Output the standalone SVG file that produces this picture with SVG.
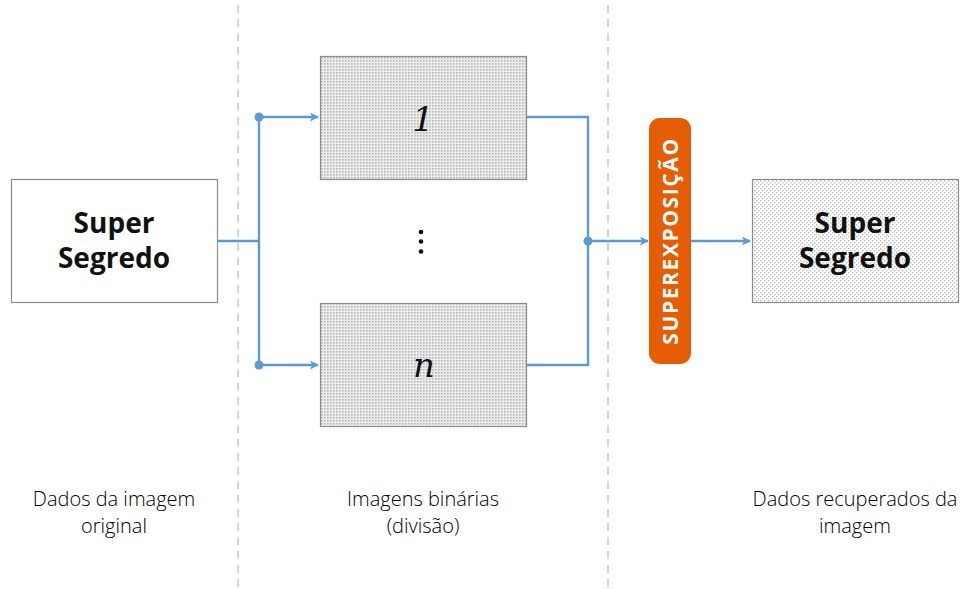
<svg xmlns="http://www.w3.org/2000/svg" width="960" height="589" viewBox="0 0 960 589">
  <defs>
    <!-- dense halftone used for the share images -->
    <pattern id="dense" width="3" height="3" patternUnits="userSpaceOnUse">
      <rect width="3" height="3" fill="#ededed"/>
      <rect x="0" y="0" width="1.6" height="1.6" fill="#b4b4b4"/>
    </pattern>
    <!-- lighter checker dots for the recovered image -->
    <pattern id="sparse" width="4" height="4" patternUnits="userSpaceOnUse">
      <rect width="4" height="4" fill="#ffffff"/>
      <rect x="0" y="0" width="1.4" height="1.4" fill="#bdbdbd"/>
      <rect x="2" y="2" width="1.4" height="1.4" fill="#bdbdbd"/>
    </pattern>
    <marker id="arrow" viewBox="0 0 10 10" refX="9" refY="5" markerWidth="9" markerHeight="9" markerUnits="userSpaceOnUse" orient="auto">
      <path d="M0,0 L10,5 L0,10 L2.5,5 Z" fill="#5b9bd5"/>
    </marker>
  </defs>
  <style>
    .box { stroke: #8c8c8c; stroke-width: 1.2; }
    .title { font-family: "Open Sans", "Noto Sans", sans-serif; font-weight: 700; font-size: 28px; fill: #111; text-anchor: middle; }
    .caption { font-family: "Open Sans", "Noto Sans", sans-serif; font-weight: 300; font-size: 20px; fill: #000; text-anchor: middle; }
    .idx { font-family: "DejaVu Serif", "Liberation Serif", serif; font-style: italic; font-size: 34px; fill: #111; text-anchor: middle; }
    .wire { fill: none; stroke: #5b9bd5; stroke-width: 2.4; }
    .sep { stroke: #c8c8c8; stroke-width: 1.5; stroke-dasharray: 8 6; }
    .joint { fill: #5b9bd5; }
  </style>

  <rect width="960" height="589" fill="#ffffff"/>

  <!-- column separators -->
  <g id="separators">
    <line class="sep" x1="238" y1="5" x2="238" y2="589"/>
    <line class="sep" x1="608" y1="5" x2="608" y2="589"/>
  </g>

  <!-- connectors -->
  <g id="connectors">
    <path class="wire" d="M217,241 H259"/>
    <path class="wire" d="M259,117 V365"/>
    <path class="wire" d="M259,117 H318" marker-end="url(#arrow)"/>
    <path class="wire" d="M259,365 H318" marker-end="url(#arrow)"/>
    <path class="wire" d="M526,117 H588 V365 H526"/>
    <path class="wire" d="M588,241 H648" marker-end="url(#arrow)"/>
    <path class="wire" d="M691,241 H750" marker-end="url(#arrow)"/>
    <circle class="joint" cx="259" cy="117" r="4.5"/>
    <circle class="joint" cx="259" cy="365" r="4.5"/>
    <circle class="joint" cx="588" cy="241" r="4.5"/>
  </g>

  <!-- original image -->
  <g id="original">
    <rect class="box" x="11.5" y="179.5" width="206" height="123" fill="#ffffff"/>
    <text class="title" x="114" y="233">Super</text>
    <text class="title" x="114" y="268">Segredo</text>
  </g>

  <!-- binary share 1 -->
  <g id="share-1">
    <rect class="box" x="320.5" y="56.5" width="206" height="123" fill="url(#dense)"/>
    <text class="idx" x="423" y="131">1</text>
  </g>

  <!-- ellipsis between shares -->
  <g id="ellipsis">
    <circle cx="421" cy="232" r="2.3" fill="#111"/>
    <circle cx="421" cy="241.5" r="2.3" fill="#111"/>
    <circle cx="421" cy="251.5" r="2.3" fill="#111"/>
  </g>

  <!-- binary share n -->
  <g id="share-n">
    <rect class="box" x="320.5" y="303.5" width="206" height="123" fill="url(#dense)"/>
    <text class="idx" x="424" y="377">n</text>
  </g>

  <!-- overlay step -->
  <g id="overlay">
    <rect x="649" y="118" width="42" height="246" rx="11" fill="#e65c00"/>
    <text x="670" y="241" transform="rotate(-90 670 241)" dy="7.5" font-family="'Open Sans', 'Noto Sans', sans-serif" font-weight="700" font-size="21" fill="#ffffff" text-anchor="middle" letter-spacing="1.6">SUPEREXPOSIÇÃO</text>
  </g>

  <!-- recovered image -->
  <g id="recovered">
    <rect class="box" x="752.5" y="179.5" width="206" height="123" fill="url(#sparse)"/>
    <text class="title" x="855" y="233">Super</text>
    <text class="title" x="855" y="268">Segredo</text>
  </g>

  <!-- column captions -->
  <g id="captions">
    <text class="caption" x="114" y="506">Dados da imagem</text>
    <text class="caption" x="114" y="533">original</text>
    <text class="caption" x="423" y="506">Imagens binárias</text>
    <text class="caption" x="423" y="533">(divisão)</text>
    <text class="caption" x="855" y="506">Dados recuperados da</text>
    <text class="caption" x="855" y="533">imagem</text>
  </g>
</svg>
